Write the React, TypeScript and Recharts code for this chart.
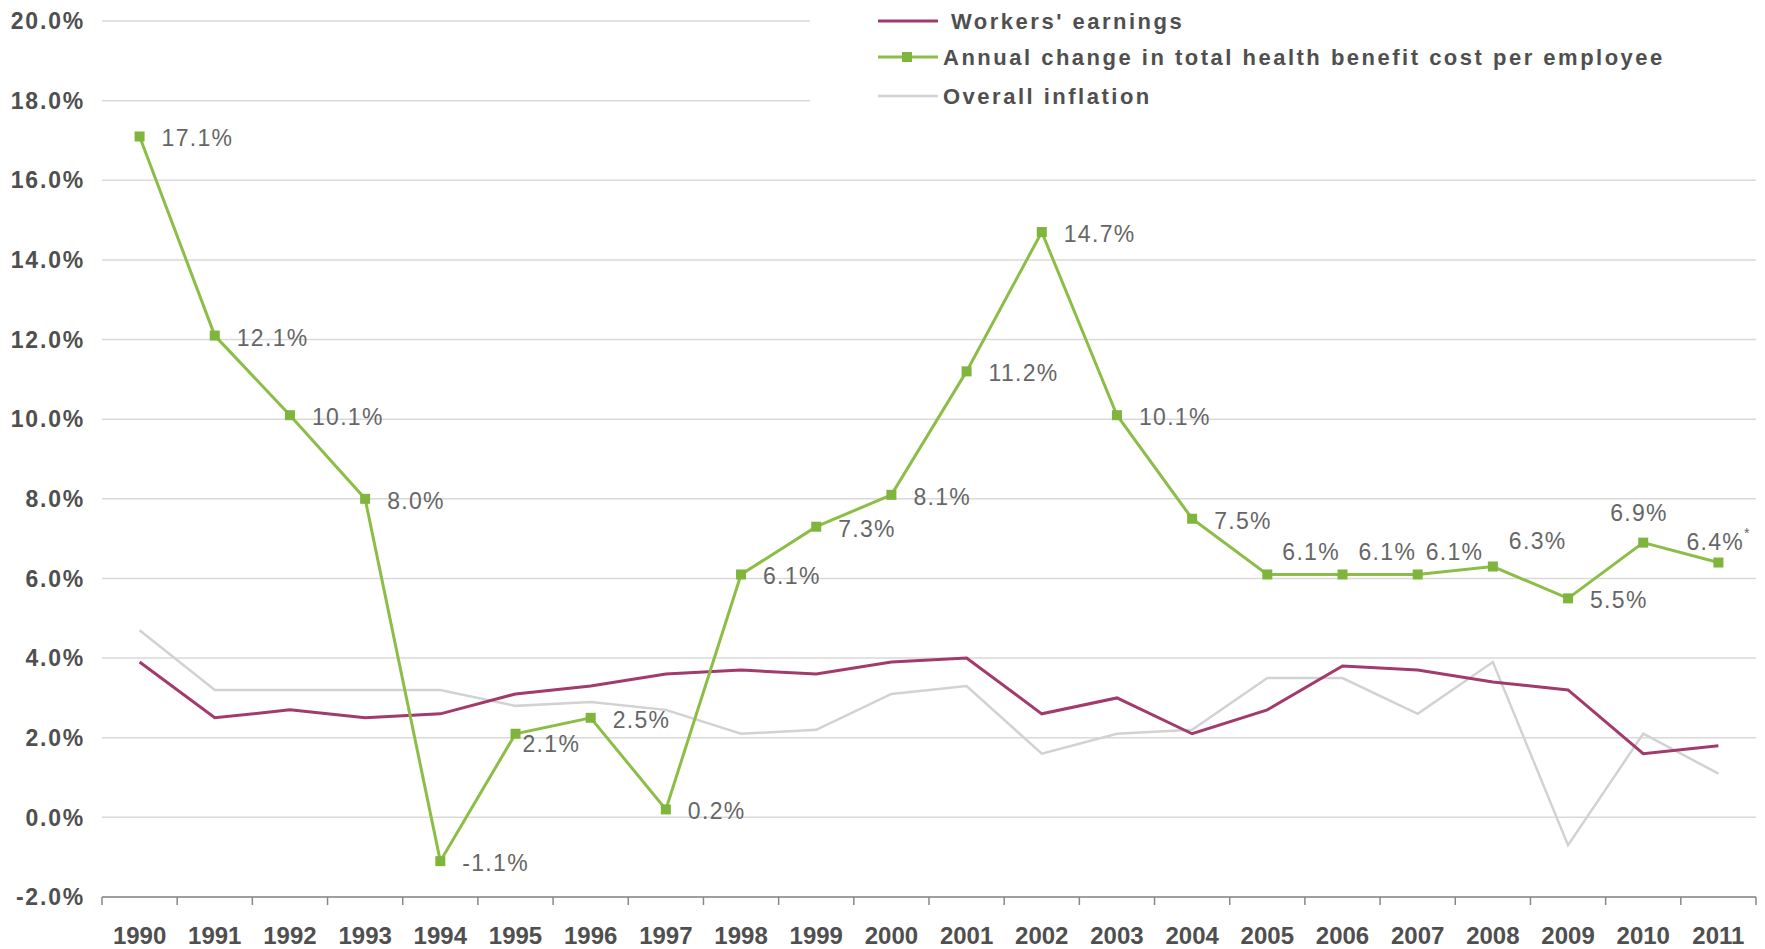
import { LineChart, Line, XAxis, YAxis, CartesianGrid, Legend, LabelList } from "recharts"

const years = [
  1990, 1991, 1992, 1993, 1994, 1995, 1996, 1997, 1998, 1999, 2000,
  2001, 2002, 2003, 2004, 2005, 2006, 2007, 2008, 2009, 2010, 2011,
]
const healthCost = [
  17.1, 12.1, 10.1, 8.0, -1.1, 2.1, 2.5, 0.2, 6.1, 7.3, 8.1,
  11.2, 14.7, 10.1, 7.5, 6.1, 6.1, 6.1, 6.3, 5.5, 6.9, 6.4,
]
const workersEarnings = [
  3.9, 2.5, 2.7, 2.5, 2.6, 3.1, 3.3, 3.6, 3.7, 3.6, 3.9,
  4.0, 2.6, 3.0, 2.1, 2.7, 3.8, 3.7, 3.4, 3.2, 1.6, 1.8,
]
const inflation = [
  4.7, 3.2, 3.2, 3.2, 3.2, 2.8, 2.9, 2.7, 2.1, 2.2, 3.1,
  3.3, 1.6, 2.1, 2.2, 3.5, 3.5, 2.6, 3.9, -0.7, 2.1, 1.1,
]
const yTicks = [-2, 0, 2, 4, 6, 8, 10, 12, 14, 16, 18, 20]
const footnoteYear = 2011

const data = years.map((year, i) => ({
  year,
  health: healthCost[i],
  earnings: workersEarnings[i],
  inflation: inflation[i],
}))

// year labels at whole years, tick marks at the half-year boundaries
const xTicks = [...years.flatMap((y) => [y - 0.5, y]), years[years.length - 1] + 0.5]

const GREEN = "#8cbd46"
const GREEN_DOT = "#7fb53c"
const MAGENTA = "#a23a6c"
const GREY = "#d2d2d2"
const TEXT = "#4f4f4f"
const LABEL = "#666"

// where each green value label sits relative to its point (left edge, vertical centre)
const labelShift: Record<number, [number, number]> = {
  1995: [7, 10],
  2005: [15, -22],
  2006: [16, -22],
  2007: [8, -22],
  2008: [16, -26],
  2010: [-33, -30],
  2011: [-32, -21],
}

function YearTick(props: any) {
  const { x, y, payload } = props
  if (!Number.isInteger(payload.value)) {
    return <line x1={x} x2={x} y1={y} y2={y + 8} stroke="#888" strokeWidth={1.5} />
  }
  return (
    <text x={x} y={y + 47} textAnchor="middle" fill={TEXT} fontSize={24} fontWeight={700}>
      {payload.value}
    </text>
  )
}

function HealthLabel(props: any) {
  const { x, y, value, index } = props
  const year = years[index]
  const [dx, dy] = labelShift[year] ?? [22, 2]
  return (
    <text x={x + dx} y={y + dy} dominantBaseline="central" fill={LABEL} fontSize={23} letterSpacing={1.3}>
      {value.toFixed(1)}%
      {year === footnoteYear && (
        <tspan fontSize={14} dy={-9}>
          *
        </tspan>
      )}
    </text>
  )
}

function SquareDot(props: any) {
  const { cx, cy, index } = props
  return <rect key={index} x={cx - 5} y={cy - 5} width={10} height={10} fill={GREEN_DOT} />
}

function LegendBox() {
  const textStyle = { fill: TEXT, fontSize: 22, fontWeight: 700, letterSpacing: 2.5 }
  return (
    <svg width={946} height={112}>
      <rect width={946} height={112} fill="#fff" />
      <line x1={68} x2={128} y1={21} y2={21} stroke={MAGENTA} strokeWidth={3} />
      <text x={141} y={21} dominantBaseline="central" {...textStyle}>
        Workers' earnings
      </text>
      <line x1={68} x2={128} y1={57} y2={57} stroke={GREEN} strokeWidth={3} />
      <rect x={92} y={52} width={10} height={10} fill={GREEN_DOT} />
      <text x={133} y={57} dominantBaseline="central" {...textStyle}>
        Annual change in total health benefit cost per employee
      </text>
      <line x1={68} x2={128} y1={96} y2={96} stroke={GREY} strokeWidth={2.5} />
      <text x={133} y={96} dominantBaseline="central" {...textStyle}>
        Overall inflation
      </text>
    </svg>
  )
}

export default function App() {
  return (
    <div
      style={{
        position: "absolute",
        left: 0,
        top: 0,
        background: "#fff",
        fontFamily: "'Liberation Sans', Arial, sans-serif",
      }}
    >
      <LineChart width={1765} height={949} data={data} margin={{ top: 21, right: 9, bottom: 0, left: 0 }}>
        <CartesianGrid vertical={false} stroke="#d9d9d9" strokeWidth={1.5} />
        <XAxis
          dataKey="year"
          type="number"
          domain={[1989.5, 2011.5]}
          ticks={xTicks}
          interval={0}
          height={52}
          tickSize={0}
          tickMargin={0}
          tickLine={false}
          axisLine={{ stroke: "#888", strokeWidth: 1.5 }}
          tick={(p: any) => <YearTick {...p} />}
        />
        <YAxis
          type="number"
          domain={[-2, 20]}
          ticks={yTicks}
          interval={0}
          width={102}
          axisLine={false}
          tickLine={false}
          tickSize={0}
          tickMargin={17}
          tickFormatter={(v: number) => `${v.toFixed(1)}%`}
          tick={{ fill: TEXT, fontSize: 23, fontWeight: 700, letterSpacing: 1.8 }}
        />
        <Legend
          layout="vertical"
          align="center"
          verticalAlign="middle"
          wrapperStyle={{ top: 0, left: 810, width: 946, height: 112 }}
          content={() => <LegendBox />}
        />
        <Line
          dataKey="inflation"
          stroke={GREY}
          strokeWidth={2.5}
          dot={false}
          activeDot={false}
          isAnimationActive={false}
        />
        <Line
          dataKey="earnings"
          stroke={MAGENTA}
          strokeWidth={3}
          dot={false}
          activeDot={false}
          isAnimationActive={false}
        />
        <Line
          dataKey="health"
          stroke={GREEN}
          strokeWidth={3}
          dot={(p: any) => <SquareDot {...p} />}
          activeDot={false}
          isAnimationActive={false}
        >
          <LabelList dataKey="health" content={(p: any) => <HealthLabel {...p} />} />
        </Line>
      </LineChart>
    </div>
  )
}
